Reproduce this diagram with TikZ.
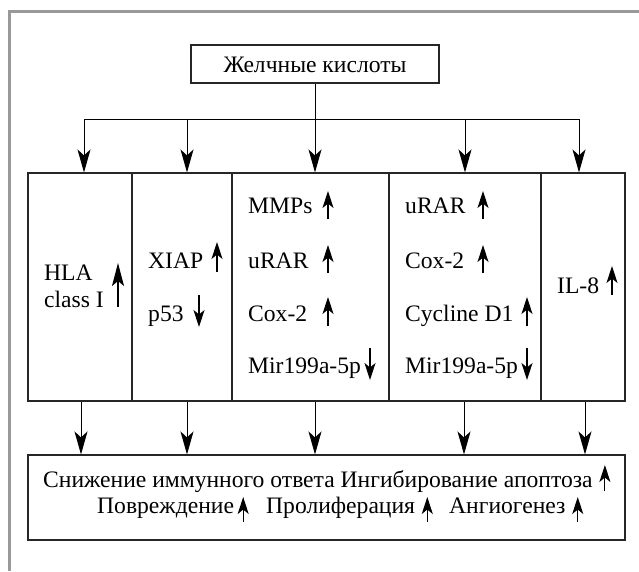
\documentclass[tikz,border=0pt]{standalone}
\usepackage{fontspec}
\setmainfont{Liberation Serif}
\usetikzlibrary{arrows.meta,calc}
\begin{document}
\begin{tikzpicture}[x=1pt,y=-1pt,
  box/.style={draw=black!85, line width=1.1pt, inner sep=0pt},
  txt/.style={inner sep=0pt, anchor=base west, font=\fontsize{23.6}{27}\selectfont},
  ctxt/.style={inner sep=0pt, anchor=base, font=\fontsize{23.6}{27}\selectfont},
  conn/.style={line width=1pt, -{Stealth[length=23pt,width=13pt,inset=6pt]}},
  glyph/.style={line width=1.1pt, -{Stealth[length=17pt,width=11pt,inset=4.5pt]}},
  bigglyph/.style={line width=1.1pt, -{Stealth[length=23pt,width=12pt,inset=5pt]}},
  frm/.style={draw=black!40, line width=2.7pt}]
\useasboundingbox (0,0) rectangle (639,571);
\draw[frm] (9.5,571) -- (9.5,11.5) -- (639,11.5);

% top box
\node[box, minimum width=248pt, minimum height=38pt] (top) at (315,64) {};
\node[ctxt] (toptxt) at (315,72) {Желчные кислоты};

% columns
\node[box, minimum width=104pt, minimum height=228pt] (c1) at (80,287) {};
\node[box, minimum width=100pt, minimum height=228pt] (c2) at (182,287) {};
\node[box, minimum width=157pt, minimum height=228pt] (c3) at (310.5,287) {};
\node[box, minimum width=152pt, minimum height=228pt] (c4) at (465,287) {};
\node[box, minimum width=84pt, minimum height=228pt] (c5) at (583,287) {};

% bottom box
\node[box, minimum width=597pt, minimum height=85pt] (bot) at (326.5,497.5) {};

% bus
\coordinate (j) at (315,119);
\coordinate (b1) at (84,119);
\coordinate (b2) at (187,119);
\coordinate (b3) at (315,119);
\coordinate (b4) at (465,119);
\coordinate (b5) at (579,119);
\draw[line width=1pt] (top.south -| j) -- (j);
\draw[line width=1pt] (b1) -- (b5);
\draw[conn] (b1) -- (b1 |- c1.north);
\draw[conn] (b2) -- (b2 |- c2.north);
\draw[conn] (b3) -- (b3 |- c3.north);
\draw[conn] (b4) -- (b4 |- c4.north);
\draw[conn] (b5) -- (b5 |- c5.north);

% bottom connectors
\draw[conn] ([xshift=1pt]c1.south) -- ([xshift=1pt]c1.south |- bot.north);
\draw[conn] ([xshift=5pt]c2.south) -- ([xshift=5pt]c2.south |- bot.north);
\draw[conn] ([xshift=4.5pt]c3.south) -- ([xshift=4.5pt]c3.south |- bot.north);
\draw[conn] ([xshift=-1pt]c4.south) -- ([xshift=-1pt]c4.south |- bot.north);
\draw[conn] ([xshift=2pt]c5.south) -- ([xshift=2pt]c5.south |- bot.north);

% column 1
\node[txt] (hla) at (44,280) {HLA};
\node[txt] (cls) at (44,307) {class I};
\draw[bigglyph] (118,307) -- (118,263);

% column 2
\node[txt] (xiap) at (148,268) {XIAP};
\node[txt] (p53) at (148,321) {p53};
\draw[glyph] (217,272) -- (217,242);
\draw[glyph] (199,295) -- (199,327);

% column 3
\node[txt] (mmp) at (248,213) {MMPs};
\node[txt] (urar1) at (248,268) {uRAR};
\node[txt] (cox1) at (248,321) {Cox-2};
\node[txt] (mir1) at (248,373) {Mir199a-5p};
\draw[glyph] (328,219) -- (328,191);
\draw[glyph] (328,273) -- (328,245);
\draw[glyph] (328,326) -- (328,297);
\draw[glyph] (370,348) -- (370,380);

% column 4
\node[txt] (urar2) at (405,213) {uRAR};
\node[txt] (cox2) at (405,268) {Cox-2};
\node[txt] (cyc) at (405,321) {Cycline D1};
\node[txt] (mir2) at (405,373) {Mir199a-5p};
\draw[glyph] (483,219) -- (483,191);
\draw[glyph] (483,273) -- (483,245);
\draw[glyph] (527,326) -- (527,297);
\draw[glyph] (527,348) -- (527,380);

% column 5
\node[txt] (il8) at (557,293) {IL-8};
\draw[glyph] (612,295) -- (612,266);

% bottom text
\node[txt] (l1) at (43,487) {Снижение иммунного ответа Ингибирование апоптоза};
\draw[glyph] ($(l1.base east)+(12,4)$) -- ++(0,-26);
\node[txt] (w1) at (97,513) {Повреждение};
\draw[glyph] ($(w1.base east)+(9,9)$) -- ++(0,-25);
\node[txt] (w2) at (266,513) {Пролиферация};
\draw[glyph] ($(w2.base east)+(12,9)$) -- ++(0,-25);
\node[txt] (w3) at (449,513) {Ангиогенез};
\draw[glyph] ($(w3.base east)+(12,9)$) -- ++(0,-25);
\end{tikzpicture}
\end{document}
